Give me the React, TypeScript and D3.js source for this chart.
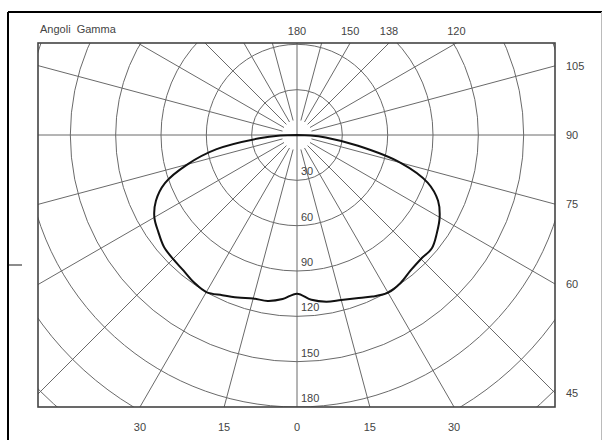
import React from "react";
import * as d3 from "d3";

// Gamma angles (degrees from nadir) at which intensities were read
const gammaAngles = [0, 5, 10, 15, 20, 25, 30, 35, 40, 45, 50, 55, 60, 65, 70, 75, 80, 85, 88, 90];
// Intensity (cd/klm) on the left half-plane
const intensityLeft = [105, 109, 111.5, 112, 114.5, 117, 120, 119, 117, 116, 115, 112, 109, 103, 93, 75, 54, 25, 11, 0];
// Intensity (cd/klm) on the right half-plane
const intensityRight = [105, 109.5, 112, 113, 115, 118, 120.5, 119.5, 117, 116, 116.5, 113, 109, 103, 92, 71, 41, 19, 9, 0];

// Circle values and labels
const circleValues = [30, 60, 90, 120, 150, 180, 210, 240];
const circleLabels = ["30", "60", "90", "120", "150", "180"];
// Radial lines every 15 degrees
const radialAngles = d3.range(0, 360, 15);
// Tick labels
const topLabels = [180, 150, 135, 120];
const topLabelText = ["180", "150", "138", "120"];
const rightLabels = [105, 90, 75, 60, 45];
const bottomLabels = [-30, -15, 0, 15, 30];

const W = 603;
const H = 440;
const cx = 297;
const cy = 135;
const rect = { x0: 38, x1: 555, y0: 43, y1: 407 };

export default function App() {
  const r = d3.scaleLinear().domain([0, 180]).range([0, 272]);
  const deg = Math.PI / 180;

  const pts: [number, number][] = [];
  for (let i = gammaAngles.length - 1; i >= 0; i--) {
    pts.push([Math.PI + gammaAngles[i] * deg, r(intensityLeft[i])]);
  }
  for (let i = 1; i < gammaAngles.length; i++) {
    pts.push([Math.PI - gammaAngles[i] * deg, r(intensityRight[i])]);
  }
  const line = d3
    .lineRadial<[number, number]>()
    .angle((d) => d[0])
    .radius((d) => d[1])
    .curve(d3.curveCatmullRom.alpha(0.5));
  const curvePath = line(pts) || "";

  const far = 600;
  const gridColor = "#6a6a6a";
  const textColor = "#444444";
  const font = "'Liberation Sans', Arial, sans-serif";

  const rightY = (g: number) => cy - (rect.x1 - cx) * Math.tan((g - 90) * deg);
  const topX = (g: number) => cx + (cy - rect.y0) * Math.tan((180 - g) * deg);
  const bottomX = (g: number) => cx + (rect.y1 - cy) * Math.tan(g * deg);

  return (
    <svg
      width={W}
      height={H}
      style={{ position: "fixed", left: 0, top: 0, background: "#fff" }}
    >
      <rect x={0} y={0} width={W} height={H} fill="#fff" />
      {/* outer frame */}
      <line x1={8} y1={12} x2={602} y2={12} stroke="#000" strokeWidth={2} />
      <line x1={8} y1={12} x2={8} y2={H} stroke="#000" strokeWidth={2} />
      <line x1={601.5} y1={12} x2={601.5} y2={H} stroke="#bbb" strokeWidth={1} />
      <line x1={9} y1={265} x2={22} y2={265} stroke="#666" strokeWidth={1.5} />

      <defs>
        <clipPath id="plotclip">
          <rect x={rect.x0} y={rect.y0} width={rect.x1 - rect.x0} height={rect.y1 - rect.y0} />
        </clipPath>
      </defs>

      <g clipPath="url(#plotclip)">
        {circleValues.map((v) => (
          <circle key={v} cx={cx} cy={cy} r={r(v)} fill="none" stroke={gridColor} strokeWidth={1} />
        ))}
        {radialAngles.map((a) => {
          const full = a % 90 === 0;
          const r0 = full ? 0 : 15;
          const t = a * deg;
          return (
            <line
              key={a}
              x1={cx + r0 * Math.sin(t)}
              y1={cy - r0 * Math.cos(t)}
              x2={cx + far * Math.sin(t)}
              y2={cy - far * Math.cos(t)}
              stroke={gridColor}
              strokeWidth={1}
            />
          );
        })}
        <g transform={`translate(${cx},${cy})`}>
          <path d={curvePath} fill="none" stroke="#111" strokeWidth={2} strokeLinejoin="round" />
        </g>
      </g>

      <rect
        x={rect.x0}
        y={rect.y0}
        width={rect.x1 - rect.x0}
        height={rect.y1 - rect.y0}
        fill="none"
        stroke="#444"
        strokeWidth={1.6}
      />

      <g fontFamily={font} fontSize={11}>
        <text x={40} y={33} fill={textColor}>Angoli&#160;&#160;Gamma</text>
        {topLabels.map((g, i) => (
          <text key={g} x={topX(g)} y={35} textAnchor="middle" fill={textColor}>
            {topLabelText[i]}
          </text>
        ))}
        {rightLabels.map((g) => (
          <text key={g} x={566} y={rightY(g) + 4} fill={textColor}>
            {g}
          </text>
        ))}
        {bottomLabels.map((g, i) => (
          <text key={i} x={bottomX(g)} y={431} textAnchor="middle" fill={textColor}>
            {Math.abs(g)}
          </text>
        ))}
        {circleLabels.map((s) => (
          <text key={s} x={301} y={cy + r(+s) - 5} fill={textColor}>
            {s}
          </text>
        ))}
      </g>
    </svg>
  );
}
